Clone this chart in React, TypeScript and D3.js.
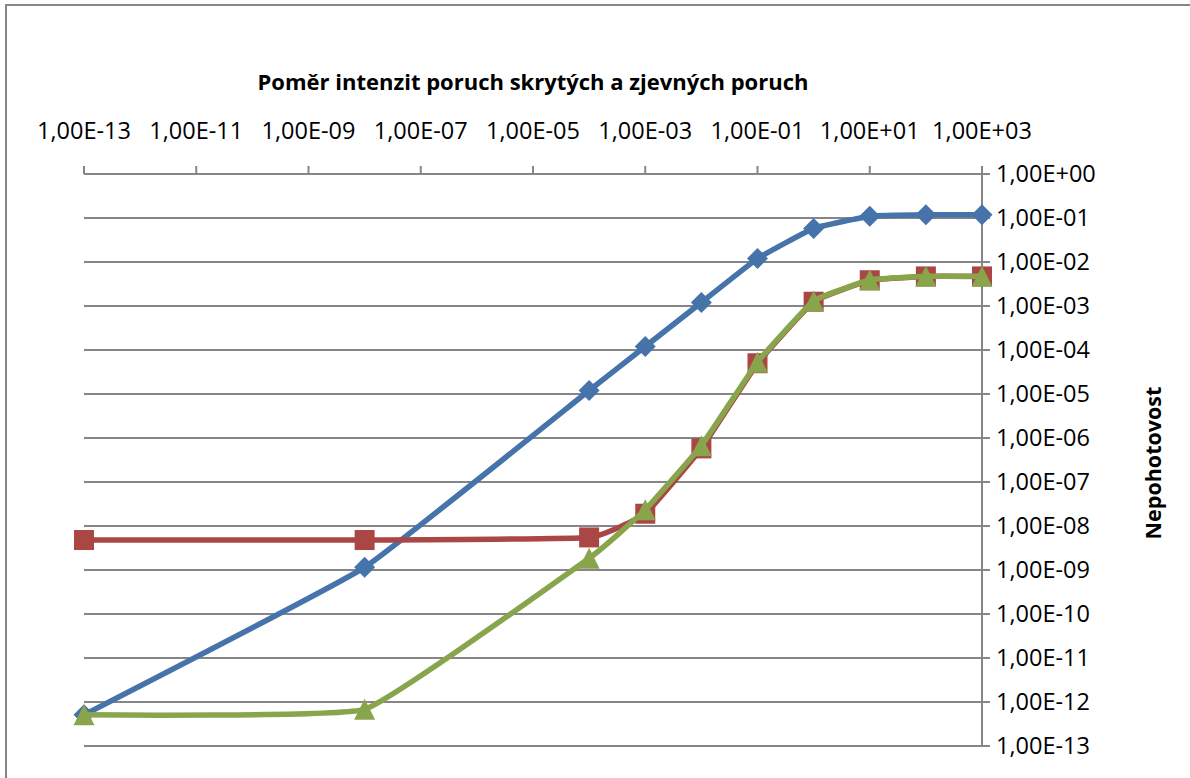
import React from "react";
import * as d3 from "d3";

// ratio of hidden vs. evident failure intensities (x) and unavailability (y)
const xValues = [1e-13, 1e-8, 1e-4, 1e-3, 1e-2, 1e-1, 1, 10, 100, 1000];
const blueValues = [5.1e-13, 1.15e-9, 1.2e-5, 1.2e-4, 1.2e-3, 1.2e-2, 5.8e-2, 1.1e-1, 1.18e-1, 1.18e-1];
const redValues = [4.8e-9, 4.8e-9, 5.5e-9, 1.9e-8, 5.8e-7, 5.0e-5, 1.25e-3, 3.85e-3, 4.7e-3, 4.7e-3];
const greenValues = [5.1e-13, 6.8e-13, 1.85e-9, 2.35e-8, 6.7e-7, 5.3e-5, 1.3e-3, 3.9e-3, 4.75e-3, 4.75e-3];

const xTicks = [1e-13, 1e-11, 1e-9, 1e-7, 1e-5, 1e-3, 1e-1, 1e1, 1e3];
const yTicks = d3.range(0, 14).map((i) => Math.pow(10, -i));

const title = "Poměr intenzit poruch skrytých a zjevných poruch";
const yTitle = "Nepohotovost";

const width = 1190;
const height = 778;
const left = 84;
const right = 982;
const top = 174;
const bottom = 746;
const gray = "#868686";
const font = "'Open Sans', sans-serif";

const fmt = (v: number) => {
  const e = Math.round(Math.log10(v));
  const sign = e < 0 ? "-" : "+";
  const abs = Math.abs(e);
  return "1,00E" + sign + (abs < 10 ? "0" + abs : "" + abs);
};

const App = () => {
  const x = d3.scaleLog().domain([1e-13, 1e3]).range([left, right]);
  const y = d3.scaleLog().domain([1e-13, 1]).range([bottom, top]);

  // light smoothing, close to excel's "smoothed line"
  const line = d3
    .line<[number, number]>()
    .x((d) => x(d[0]))
    .y((d) => y(d[1]))
    .curve(d3.curveCardinal.tension(0.7));

  const series = [
    { name: "blue", values: blueValues, color: "#4573AA", marker: "diamond" },
    { name: "red", values: redValues, color: "#AA4643", marker: "square" },
    { name: "green", values: greenValues, color: "#89A54C", marker: "triangle" },
  ];

  const marker = (kind: string, cx: number, cy: number, color: string, key: number) => {
    if (kind === "diamond") {
      const r = 10.5;
      return (
        <path key={key} d={`M${cx},${cy - r}L${cx + r},${cy}L${cx},${cy + r}L${cx - r},${cy}Z`} fill={color} />
      );
    }
    if (kind === "square") {
      const s = 10;
      return <rect key={key} x={cx - s} y={cy - s} width={2 * s} height={2 * s} fill={color} />;
    }
    const w = 10.5;
    const h = 10.5;
    return (
      <path key={key} d={`M${cx},${cy - h}L${cx + w},${cy + h}L${cx - w},${cy + h}Z`} fill={color} />
    );
  };

  return (
    <svg
      width={width}
      height={height}
      style={{ position: "absolute", left: 0, top: 0, background: "#fff" }}
    >
      <rect x={6} y={5} width={1300} height={900} fill="#fff" stroke={gray} strokeWidth={2} />

      <text x={533} y={90} textAnchor="middle" fontFamily={font} fontWeight="bold" fontSize={22} fill="#000">
        {title}
      </text>

      {/* grid lines + y ticks */}
      {yTicks.map((t, i) => (
        <line key={i} x1={left} x2={right + 8} y1={y(t)} y2={y(t)} stroke={gray} strokeWidth={2} />
      ))}
      {yTicks.map((t, i) => (
        <text key={i} x={996} y={y(t)} dy="0.35em" fontFamily={font} fontSize={23.5} fill="#000">
          {fmt(t)}
        </text>
      ))}

      {/* y axis line on the right */}
      <line x1={right} x2={right} y1={top - 8} y2={bottom} stroke={gray} strokeWidth={2} />

      {/* x axis on top */}
      {xTicks.map((t, i) => (
        <line key={i} x1={x(t)} x2={x(t)} y1={top - 8} y2={top} stroke={gray} strokeWidth={2} />
      ))}
      {xTicks.map((t, i) => (
        <text key={i} x={x(t)} y={131} dy="0.35em" textAnchor="middle" fontFamily={font} fontSize={23.5} fill="#000">
          {fmt(t)}
        </text>
      ))}

      <text
        transform={`translate(1153,${(top + bottom) / 2 + 3}) rotate(-90)`}
        textAnchor="middle"
        dy="0.35em"
        fontFamily={font}
        fontWeight="bold"
        fontSize={21.5}
        fill="#000"
      >
        {yTitle}
      </text>

      {series.map((s) => {
        const pts = xValues.map((xv, i) => [xv, s.values[i]] as [number, number]);
        return (
          <g key={s.name}>
            <path d={line(pts) || ""} fill="none" stroke={s.color} strokeWidth={5.5} strokeLinejoin="round" />
            {pts.map((p, i) => marker(s.marker, x(p[0]), y(p[1]), s.color, i))}
          </g>
        );
      })}
    </svg>
  );
};

export default App;
